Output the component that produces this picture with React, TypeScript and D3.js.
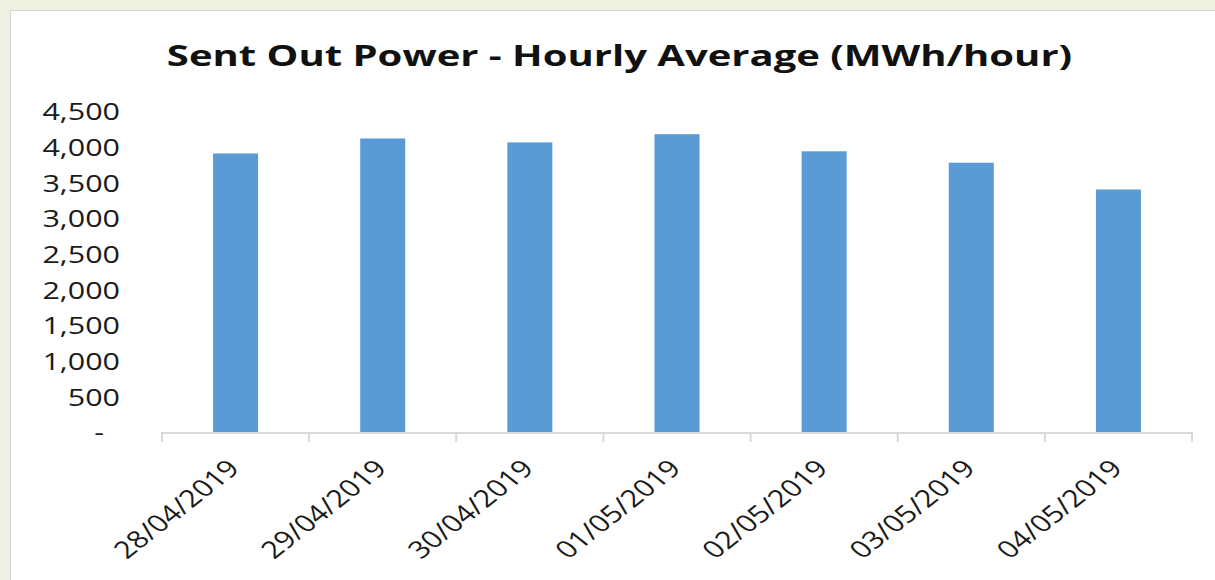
import { useEffect, useRef } from 'react';
import * as d3 from 'd3';

const categories = ['28/04/2019', '29/04/2019', '30/04/2019', '01/05/2019', '02/05/2019', '03/05/2019', '04/05/2019'];
const values = [3905, 4115, 4060, 4175, 3935, 3775, 3400];
const yTicks = [0, 500, 1000, 1500, 2000, 2500, 3000, 3500, 4000, 4500];

const W = 1215;
const H = 580;
const FONT = '"Open Sans", "DejaVu Sans", sans-serif';
// the source picture is stretched sideways, so text gets a horizontal scale
const SX = 1.27;

export default function App() {
  const svgRef = useRef<SVGSVGElement>(null);

  useEffect(() => {
    if (!svgRef.current) return;
    const svg = d3.select(svgRef.current);
    svg.selectAll('*').remove();

    // page background and chart box
    svg.append('rect').attr('width', W).attr('height', H).attr('fill', '#eef1e2');
    svg.append('rect')
      .attr('x', 10.5).attr('y', 10.5)
      .attr('width', W).attr('height', H)
      .attr('fill', '#fff')
      .attr('stroke', '#d4d4d4');

    const left = 162;
    const right = 1192;
    const bottom = 432;
    const top = 111;

    const x = d3.scaleBand<string>().domain(categories).range([left, right]).paddingInner(0.694).paddingOuter(0.347);
    const y = d3.scaleLinear().domain([0, 4500]).range([bottom, top]);

    // title
    svg.append('text')
      .attr('transform', `translate(619.5,66) scale(1.38,1)`)
      .attr('text-anchor', 'middle')
      .attr('font-family', FONT)
      .attr('font-weight', 700)
      .attr('font-size', 29)
      .attr('fill', '#111')
      .text('Sent Out Power - Hourly Average (MWh/hour)');

    // bars
    svg.append('g')
      .selectAll('rect')
      .data(values)
      .join('rect')
      .attr('x', (_, i) => x(categories[i]) as number)
      .attr('y', d => y(d))
      .attr('width', x.bandwidth())
      .attr('height', d => bottom - y(d))
      .attr('fill', '#5b9bd5');

    // y tick labels
    const fmt = d3.format(',');
    svg.append('g')
      .selectAll('text')
      .data(yTicks)
      .join('text')
      .attr('transform', d => `translate(${d === 0 ? 104 : 120},${y(d) + 1}) scale(${SX},1)`)
      .attr('dy', '0.35em')
      .attr('text-anchor', 'end')
      .attr('font-family', FONT)
      .attr('font-size', 24)
      .attr('fill', '#1a1a1a')
      .text(d => (d === 0 ? '-' : fmt(d)));

    // x axis line and ticks
    const axis = svg.append('g').attr('stroke', '#d9d9d9').attr('stroke-width', 2);
    axis.append('line').attr('x1', left).attr('x2', right).attr('y1', bottom + 1).attr('y2', bottom + 1);
    const step = x.step();
    axis.selectAll('line.tick')
      .data(d3.range(categories.length + 1))
      .join('line')
      .attr('class', 'tick')
      .attr('x1', i => left + i * step)
      .attr('x2', i => left + i * step)
      .attr('y1', bottom)
      .attr('y2', bottom + 10);

    // x labels, rotated
    svg.append('g')
      .selectAll('text')
      .data(categories)
      .join('text')
      .attr('transform', d => `translate(${(x(d) as number) + x.bandwidth() / 2 - 2},${bottom + 32}) scale(${SX},1) rotate(-45)`)
      .attr('text-anchor', 'end')
      .attr('dy', '0.35em')
      .attr('font-family', FONT)
      .attr('font-size', 24)
      .attr('fill', '#1a1a1a')
      .text(d => d);
  }, []);

  return (
    <svg ref={svgRef} width={W} height={H} style={{ position: 'absolute', left: 0, top: 0 }} />
  );
}
